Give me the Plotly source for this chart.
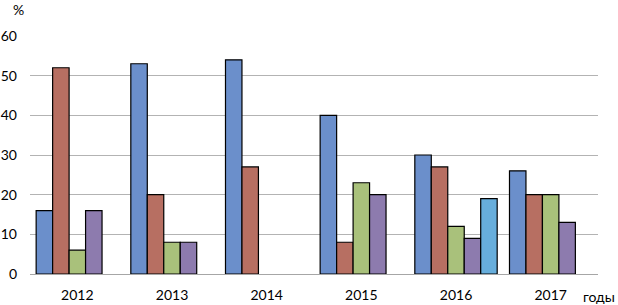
import plotly.graph_objects as go

years = ["2012", "2013", "2014", "2015", "2016", "2017"]
s1 = [16, 53, 54, 40, 30, 26]
s2 = [52, 20, 27, 8, 27, 20]
s3 = [6, 8, None, 23, 12, 20]
s4 = [16, 8, None, 20, 9, 13]
s5 = [None, None, None, None, 19, None]
y_ticks = [0, 10, 20, 30, 40, 50, 60]

series = [s1, s2, s3, s4, s5]
colors = ["#6B8FCB", "#B76F62", "#A9C17B", "#8D7BAE", "#67AEDC"]

fig = go.Figure()
for vals, c in zip(series, colors):
    fig.add_trace(go.Bar(x=years, y=vals, marker=dict(color=c, line=dict(color="#000000", width=1.2))))

W, H = 568, 238
fig.update_layout(
    width=618, height=305,
    margin=dict(l=30, r=20, t=36, b=31, autoexpand=False),
    paper_bgcolor="white", plot_bgcolor="white",
    barmode="group", bargap=0.13, bargroupgap=0,
    showlegend=False,
    font=dict(family="Lato, Noto Sans, sans-serif", size=14, color="#000"),
    xaxis=dict(showline=True, linecolor="#A6A6A6", linewidth=1, ticks="", ticklabelstandoff=8,
               showgrid=False, automargin=False),
    yaxis=dict(range=[0, 60], tickvals=y_ticks, showgrid=True, gridcolor="#B3B3B3", gridwidth=1,
               zeroline=False, showline=False, ticks="", ticklabelstandoff=12, automargin=False),
    annotations=[
        dict(text="%", xref="paper", yref="paper", x=-12 / W, y=1 + 26 / H,
             xanchor="center", yanchor="middle", showarrow=False),
        dict(text="годы", xref="paper", yref="paper", x=(617 - 30) / W, y=-22 / H,
             xanchor="right", yanchor="middle", showarrow=False),
    ],
)

fig.write_html("out.html", config={"displayModeBar": False},
               post_script="document.body.style.margin='0';")
